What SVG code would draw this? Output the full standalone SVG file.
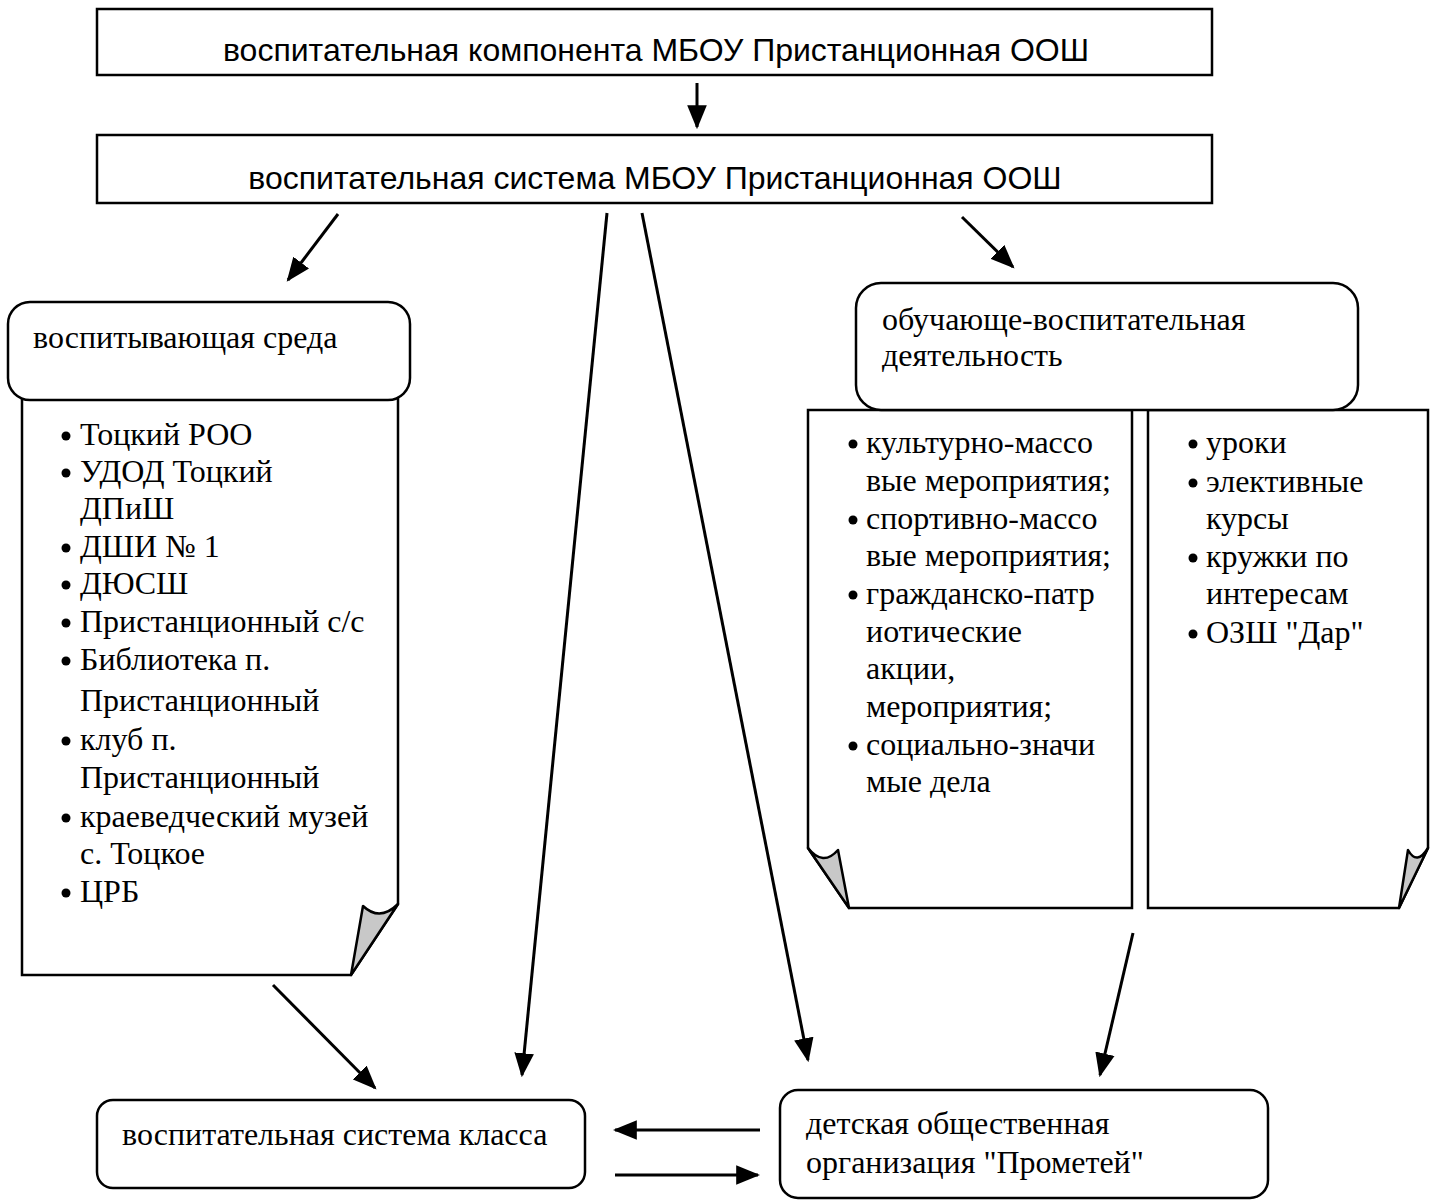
<svg xmlns="http://www.w3.org/2000/svg" width="1430" height="1200" viewBox="0 0 1430 1200">
<style>
.box{fill:#fff;stroke:#000;stroke-width:2.5}
.paper{fill:#fff;stroke:#000;stroke-width:2.5}
.fold{fill:#c8c8c8;stroke:#000;stroke-width:2.5;stroke-linejoin:round}
.sans{font-family:"Liberation Sans",Arial,sans-serif;font-size:32px;fill:#000}
.serif{font-family:"Liberation Serif","Times New Roman",serif;font-size:32px;fill:#000}
.conn line{stroke:#000;stroke-width:3;marker-end:url(#ah)}
.dot{fill:#000}
</style>
<defs>
<marker id="ah" markerUnits="userSpaceOnUse" markerWidth="24" markerHeight="20" viewBox="0 0 22 18" refX="20" refY="9" orient="auto">
<path d="M0,0 L22,9 L0,18 Z" fill="#000"/>
</marker>
</defs>
<rect width="1430" height="1200" fill="#fff"/>

<g id="node-component">
<rect class="box" x="97" y="9" width="1115" height="66"/>
<text class="sans" x="656" y="61" text-anchor="middle">воспитательная компонента МБОУ Пристанционная ООШ</text>
</g>

<g id="node-system">
<rect class="box" x="97" y="135" width="1115" height="68"/>
<text class="sans" x="655" y="189" text-anchor="middle">воспитательная система МБОУ Пристанционная ООШ</text>
</g>

<g id="node-sreda">
<path class="paper" d="M22,396 V975 H351 L398,904 V396"/>
<path class="fold" d="M398,904 Q380,922 363,906 L351,975 Z"/>
<rect class="box" x="8" y="302" width="402" height="98" rx="22"/>
<text class="serif" x="33" y="348">воспитывающая среда</text>
<g class="serif">
<circle class="dot" cx="66" cy="436" r="4.5"/><text x="80" y="445">Тоцкий РОО</text>
<circle class="dot" cx="66" cy="473" r="4.5"/><text x="80" y="482">УДОД Тоцкий</text>
<text x="80" y="519">ДПиШ</text>
<circle class="dot" cx="66" cy="548" r="4.5"/><text x="80" y="557">ДШИ № 1</text>
<circle class="dot" cx="66" cy="585" r="4.5"/><text x="80" y="594">ДЮСШ</text>
<circle class="dot" cx="66" cy="623" r="4.5"/><text x="80" y="632">Пристанционный с/с</text>
<circle class="dot" cx="66" cy="661" r="4.5"/><text x="80" y="670">Библиотека п.</text>
<text x="80" y="711">Пристанционный</text>
<circle class="dot" cx="66" cy="741" r="4.5"/><text x="80" y="750">клуб п.</text>
<text x="80" y="788">Пристанционный</text>
<circle class="dot" cx="66" cy="818" r="4.5"/><text x="80" y="827">краеведческий музей</text>
<text x="80" y="864">с. Тоцкое</text>
<circle class="dot" cx="66" cy="893" r="4.5"/><text x="80" y="902">ЦРБ</text>
</g>
</g>

<g id="node-obuch">
<path class="paper" d="M808,410 H1132 V908 H849 L808,848 Z"/>
<path class="fold" d="M808,848 Q823,867 838,850 L849,908 Z"/>
<path class="paper" d="M1148,410 H1428 V848 L1399,908 H1148 Z"/>
<path class="fold" d="M1428,848 Q1417,866 1408,850 L1399,908 Z"/>
<rect class="box" x="856" y="283" width="502" height="127" rx="25"/>
<text class="serif" x="882" y="330">обучающе-воспитательная</text>
<text class="serif" x="882" y="366">деятельность</text>
<g class="serif">
<circle class="dot" cx="853" cy="444" r="4.5"/><text x="866" y="453">культурно-массо</text>
<text x="866" y="491">вые мероприятия;</text>
<circle class="dot" cx="853" cy="520" r="4.5"/><text x="866" y="529">спортивно-массо</text>
<text x="866" y="566">вые мероприятия;</text>
<circle class="dot" cx="853" cy="595" r="4.5"/><text x="866" y="604">гражданско-патр</text>
<text x="866" y="642">иотические</text>
<text x="866" y="679">акции,</text>
<text x="866" y="717">мероприятия;</text>
<circle class="dot" cx="853" cy="746" r="4.5"/><text x="866" y="755">социально-значи</text>
<text x="866" y="792">мые дела</text>
<circle class="dot" cx="1193" cy="444" r="4.5"/><text x="1206" y="453">уроки</text>
<circle class="dot" cx="1193" cy="483" r="4.5"/><text x="1206" y="492">элективные</text>
<text x="1206" y="529">курсы</text>
<circle class="dot" cx="1193" cy="558" r="4.5"/><text x="1206" y="567">кружки по</text>
<text x="1206" y="604">интересам</text>
<circle class="dot" cx="1193" cy="634" r="4.5"/><text x="1206" y="643">ОЗШ "Дар"</text>
</g>
</g>

<g id="node-class">
<rect class="box" x="97" y="1100" width="488" height="88" rx="16"/>
<text class="serif" x="122" y="1145">воспитательная система класса</text>
</g>

<g id="node-prometey">
<rect class="box" x="780" y="1090" width="488" height="108" rx="18"/>
<text class="serif" x="806" y="1134">детская общественная</text>
<text class="serif" x="806" y="1173">организация "Прометей"</text>
</g>

<g id="connectors" class="conn">
<line x1="697" y1="83" x2="697" y2="127"/>
<line x1="338" y1="214" x2="288" y2="280"/>
<line x1="607" y1="213" x2="522" y2="1075"/>
<line x1="642" y1="213" x2="808" y2="1060"/>
<line x1="962" y1="217" x2="1013" y2="267"/>
<line x1="273" y1="985" x2="375" y2="1088"/>
<line x1="1133" y1="933" x2="1100" y2="1075"/>
<line x1="760" y1="1130" x2="615" y2="1130"/>
<line x1="615" y1="1175" x2="758" y2="1175"/>
</g>
</svg>
